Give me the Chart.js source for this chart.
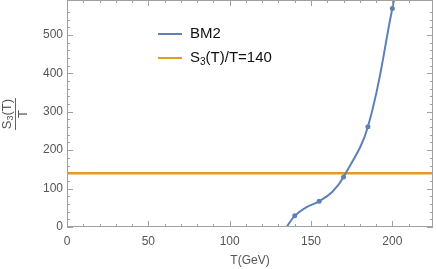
<!DOCTYPE html>
<html>
<head>
<meta charset="utf-8">
<script src="https://cdn.jsdelivr.net/npm/chart.js@4"></script>
<style>
  body { margin: 0; background: #fff; }
  #wrap { position: relative; width: 436px; height: 269px; font-family: "Liberation Sans", Arial, sans-serif; }
  .leg { position: absolute; left: 158px; font-size: 15px; color: #111; white-space: nowrap; }
  .leg i { display: inline-block; width: 24px; height: 2px; vertical-align: middle; margin-right: 8px; }
  .leg sub { font-size: 10px; vertical-align: -3px; }
  #ylab { position: absolute; left: -7px; top: 99px; width: 44px; height: 30px; transform: rotate(-90deg);
          text-align: center; font-size: 13px; color: #555; line-height: 14px; }
  #ylab .num { border-bottom: 1px solid #666; padding: 0 1px 1px; display: inline-block; }
  #ylab sub { font-size: 9px; vertical-align: -2px; line-height: 0; }
</style>
</head>
<body>
<div id="wrap">
  <canvas id="chart" width="436" height="269"></canvas>
  <div class="leg" style="top:24px"><i style="background:#5e81b5"></i>BM2</div>
  <div class="leg" style="top:48px"><i style="background:#e19c24"></i>S<sub>3</sub>(T)/T=140</div>
  <div id="ylab"><span class="num">S<sub>3</sub>(T)</span><br>T</div>
</div>
<script>
// BM2 computed points (T in GeV), drawn as dots
var pointT = [140, 155, 170, 185, 200];

// the fitted BM2 curve (includes the dots)
var curveT = [135, 140, 147, 155, 163, 170, 185, 200, 201];
var curveS = [0, 29, 51, 67, 91, 130, 261, 569, 591];

var threshold = 140;
var xRange = [0, 225];
var yRange = [0, 591];

var blue = '#5e81b5';
var orange = '#e19c24';
var frameColor = '#a0a0a0';

var curve = curveT.map(function(t, i) { return { x: t, y: curveS[i] }; });
var dotSize = curveT.map(function(t) { return pointT.indexOf(t) >= 0 ? 2.5 : 0; });
var flat = xRange.map(function(t) { return { x: t, y: threshold }; });

// Mathematica-style frame with inward ticks on all four sides
var frameTicks = {
  id: 'frameTicks',
  afterDraw: function(chart) {
    var c = chart.ctx, a = chart.chartArea;
    var xs = chart.scales.x, ys = chart.scales.y;
    c.save();
    c.strokeStyle = frameColor;
    c.lineWidth = 1;
    c.strokeRect(a.left + 0.5, a.top + 0.5, a.right - a.left - 1, a.bottom - a.top - 1);
    c.beginPath();
    xs.ticks.forEach(function(t) {
      if (t.value >= xRange[1]) return;
      var px = Math.round(xs.getPixelForValue(t.value)) + 0.5;
      var len = t.value % 50 === 0 ? 6 : 3;
      c.moveTo(px, a.bottom); c.lineTo(px, a.bottom - len);
      c.moveTo(px, a.top); c.lineTo(px, a.top + len);
    });
    ys.ticks.forEach(function(t) {
      if (t.value >= yRange[1]) return;
      var py = Math.round(ys.getPixelForValue(t.value)) + 0.5;
      var len = t.value % 100 === 0 ? 6 : 3;
      c.moveTo(a.left, py); c.lineTo(a.left + len, py);
      c.moveTo(a.right, py); c.lineTo(a.right - len, py);
    });
    c.stroke();
    c.restore();
  }
};

new Chart(document.getElementById('chart'), {
  type: 'scatter',
  data: {
    datasets: [{
      label: 'BM2',
      data: curve,
      showLine: true,
      borderColor: blue,
      backgroundColor: blue,
      borderWidth: 2,
      pointRadius: dotSize,
      pointBorderWidth: 0,
      tension: 0.4
    }, {
      label: 'S3(T)/T=140',
      data: flat,
      showLine: true,
      borderColor: orange,
      borderWidth: 2.5,
      pointRadius: 0
    }]
  },
  options: {
    responsive: false,
    devicePixelRatio: 1,
    animation: false,
    layout: { padding: { top: -7, right: 0, left: 0, bottom: 0 } },
    plugins: { legend: { display: false }, tooltip: { enabled: false } },
    scales: {
      x: {
        type: 'linear', min: xRange[0], max: xRange[1],
        grid: { display: false, drawTicks: false },
        border: { display: false },
        ticks: {
          stepSize: 10, autoSkip: false, maxRotation: 0, padding: 7,
          color: '#555', font: { family: 'Liberation Sans', size: 12 },
          callback: function(v) { return v % 50 === 0 ? v : ''; }
        },
        title: { display: true, text: 'T(GeV)', color: '#555', font: { family: 'Liberation Sans', size: 12 },
                 padding: { top: 0, bottom: 1 } },
        afterFit: function(s) { s.height = 42; s.paddingRight = 3; }
      },
      y: {
        type: 'linear', min: yRange[0], max: yRange[1],
        grid: { display: false, drawTicks: false },
        border: { display: false },
        ticks: {
          stepSize: 20, autoSkip: false, padding: 4,
          color: '#555', font: { family: 'Liberation Sans', size: 12 },
          callback: function(v) { return v % 100 === 0 ? v : ''; }
        },
        afterFit: function(s) { s.width = 67; s.paddingTop = 0; }
      }
    }
  },
  plugins: [frameTicks]
});
</script>
</body>
</html>
